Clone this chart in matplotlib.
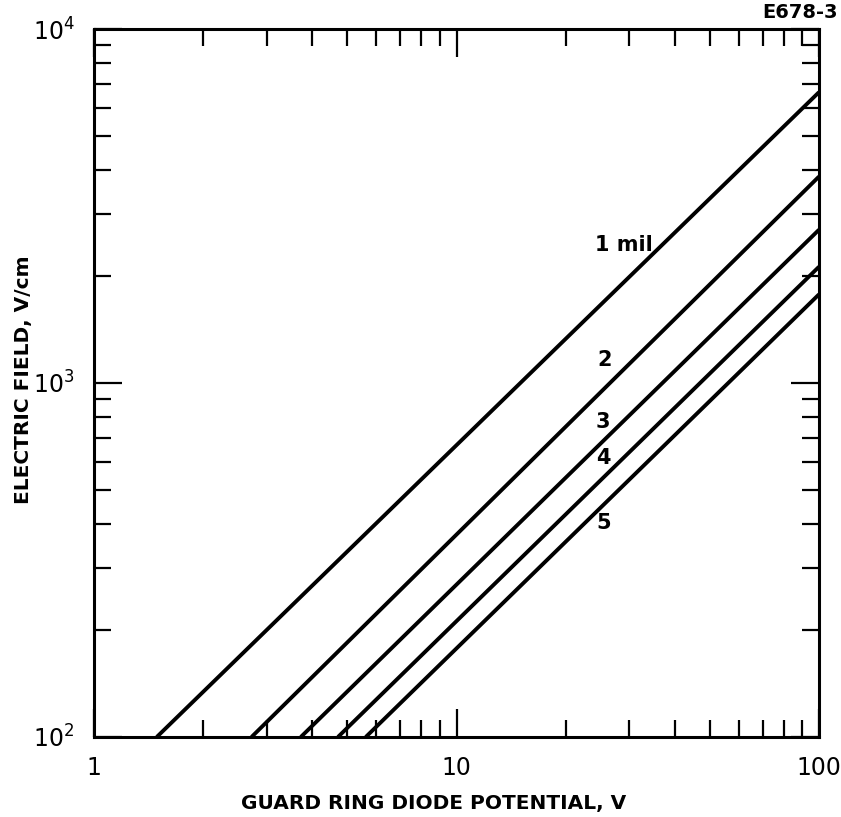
import matplotlib.pyplot as plt
from matplotlib.ticker import FixedLocator, NullFormatter

# guard ring diode curves, one per spacing (E = k * V on log-log)
spacing = ["1 mil", "2", "3", "4", "5"]
v_at_100 = [1.49, 2.72, 3.72, 4.71, 5.62]     # volts where E = 100 V/cm
e_at_100v = [6630, 3830, 2710, 2130, 1780]    # V/cm at 100 V
label_v = [29.0, 25.7, 25.4, 25.4, 25.4]
label_e = [2450, 1160, 778, 615, 403]

x_ticks = [1, 10, 100]
x_ticklabels = ["1", "10", "100"]
y_ticks = [1e2, 1e3, 1e4]
y_ticklabels = [r"$10^2$", r"$10^3$", r"$10^4$"]

plt.rcParams["font.family"] = "DejaVu Sans"
plt.rcParams["mathtext.fontset"] = "dejavusans"

fig = plt.figure(figsize=(8.41, 8.17), dpi=100)
ax = fig.add_axes([94 / 841, 80 / 817, 725 / 841, 708 / 817])

for v0, e1 in zip(v_at_100, e_at_100v):
    ax.plot([v0, 100], [100, e1], color="black", lw=2.8, solid_capstyle="butt")

for name, lx, ly in zip(spacing, label_v, label_e):
    ax.text(lx, ly, name, fontsize=15, fontweight="bold", ha="center", va="center")

ax.set_xscale("log")
ax.set_yscale("log")
ax.set_xlim(1, 100)
ax.set_ylim(100, 1e4)

ax.xaxis.set_major_locator(FixedLocator(x_ticks))
ax.set_xticklabels(x_ticklabels)
ax.yaxis.set_major_locator(FixedLocator(y_ticks))
ax.set_yticklabels(y_ticklabels)
ax.xaxis.set_minor_formatter(NullFormatter())
ax.yaxis.set_minor_formatter(NullFormatter())

ax.tick_params(which="both", direction="in", top=True, right=True, width=1.6)
ax.tick_params(which="major", length=20)
ax.tick_params(which="minor", length=12)
ax.tick_params(axis="x", which="major", labelsize=17, pad=14)
ax.tick_params(axis="y", which="major", labelsize=17, pad=14)
for s in ax.spines.values():
    s.set_linewidth(2.2)

fig.text(434 / 841, 1 - 803 / 817, "GUARD RING DIODE POTENTIAL, V",
         fontsize=14.5, fontweight="bold", ha="center", va="center")
fig.text(24 / 841, 1 - 380 / 817, "ELECTRIC FIELD, V/cm", rotation=90,
         fontsize=14.5, fontweight="bold", ha="center", va="center")
fig.text(838 / 841, 1 - 12 / 817, "E678-3", fontsize=14, fontweight="bold",
         ha="right", va="center")

fig.savefig("out.png", dpi=100)
